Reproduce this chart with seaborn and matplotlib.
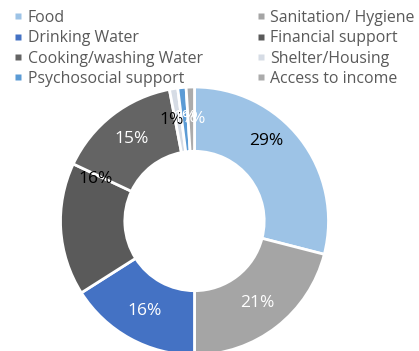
import numpy as np
import seaborn as sns
import matplotlib.pyplot as plt
from matplotlib.lines import Line2D

categories = ['Food', 'Sanitation/ Hygiene', 'Drinking Water', 'Financial support',
              'Cooking/washing Water', 'Shelter/Housing', 'Psychosocial support', 'Access to income']
values = [29, 21, 16, 16, 15, 1, 1, 1]
colors = ['#9DC3E6', '#A5A5A5', '#4472C4', '#5A5A5A', '#646464', '#D6DCE5', '#5B9BD5', '#ABABAB']
label_colors = ['black', 'white', 'white', 'black', 'white', 'black', 'white', 'white']

sns.set_theme(style='white')
plt.rcParams['font.family'] = ['Open Sans', 'DejaVu Sans']

fig = plt.figure(figsize=(4.19, 3.51), dpi=100)
r_px = 134
cx, cy = 194.5, 351 - 221
ax = fig.add_axes([(cx - r_px) / 419, (cy - r_px) / 351, 2 * r_px / 419, 2 * r_px / 351])

wedges, texts, autotexts = ax.pie(values, colors=colors, startangle=90, counterclock=False,
                                  autopct='%1.0f%%', pctdistance=0.77,
                                  wedgeprops=dict(width=0.48, edgecolor='white', linewidth=2),
                                  textprops=dict(fontsize=12.5))
for t, c in zip(autotexts, label_colors):
    t.set_color(c)

ends = np.cumsum(values) / 100 * 360


def put(i, deg, r):
    a = np.deg2rad(90 - deg)
    autotexts[i].set_position((r * np.cos(a), r * np.sin(a)))


# labels Excel moved off the slice middle
put(0, 42, 0.8)
put(3, ends[3] - 2, 0.8)
put(5, ends[4] - 2, 0.77)
put(7, ends[7] - 0.5, 0.76)

ax.set_xlim(-1, 1)
ax.set_ylim(-1, 1)
ax.set_aspect('equal')

# legend: rows read left-to-right
order = [0, 2, 4, 6, 1, 3, 5, 7]
handles = [Line2D([], [], marker='s', linestyle='none', markersize=5,
                  markerfacecolor=colors[i], markeredgecolor='none') for i in order]
leg = fig.legend(handles, [categories[i] for i in order], ncol=2, loc='upper left',
                 bbox_to_anchor=(0.0, 1.012), frameon=False, fontsize=11.4,
                 handlelength=0.5, handletextpad=0.35, columnspacing=3.4,
                 labelspacing=0.27, labelcolor='#595959')

plt.savefig('out.png', dpi=100)
